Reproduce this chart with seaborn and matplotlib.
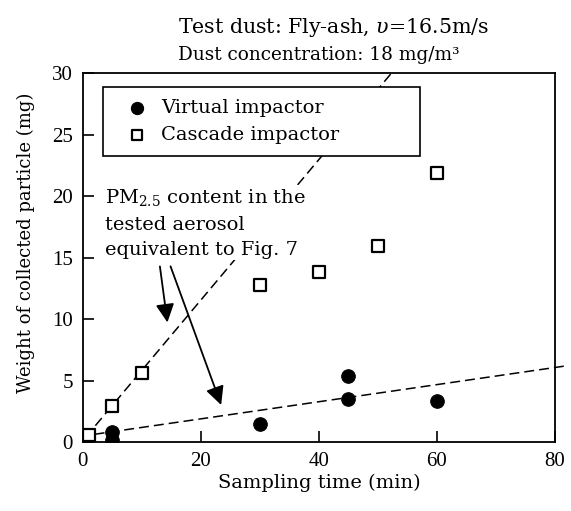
import numpy as np
import pandas as pd
import matplotlib
matplotlib.use("Agg")
import matplotlib.pyplot as plt
import seaborn as sns

# readings
virtual_time = [5, 5, 30, 45, 45, 60]
virtual_weight = [0.85, 0.2, 1.5, 5.4, 3.5, 3.3]
cascade_time = [1, 5, 10, 30, 40, 50, 60]
cascade_weight = [0.6, 2.9, 5.6, 12.8, 13.8, 15.9, 21.9]

# dashed reference lines (PM2.5 content equivalent to Fig. 7)
steep_x = [0.5, 53.0]
steep_y = [0.4, 30.4]
flat_x = [2.0, 82.0]
flat_y = [0.63, 6.2]

xticks = [0, 20, 40, 60, 80]
yticks = [0, 5, 10, 15, 20, 25, 30]

sns.set_style("ticks")
plt.rcParams["font.family"] = ["DejaVu Serif"]
plt.rcParams["mathtext.fontset"] = "dejavuserif"
for key in ["text.color", "axes.labelcolor", "xtick.color", "ytick.color"]:
    plt.rcParams[key] = "black"

fig = plt.figure(figsize=(5.71, 5.11), dpi=100)
ax = fig.add_axes([0.145, 0.135, 0.827, 0.722])

df_v = pd.DataFrame({"t": virtual_time, "w": virtual_weight})
df_c = pd.DataFrame({"t": cascade_time, "w": cascade_weight})

dash = (0, (6.5, 3.3))
sns.lineplot(x=steep_x, y=steep_y, ax=ax, color="black", lw=1.1,
             linestyle=dash, zorder=2)
sns.lineplot(x=flat_x, y=flat_y, ax=ax, color="black", lw=1.1,
             linestyle=dash, zorder=2, clip_on=False)

sns.scatterplot(data=df_c, x="t", y="w", ax=ax, marker="s", s=75,
                facecolor="white", edgecolor="black", linewidth=1.6,
                label="Cascade impactor", zorder=3)
sns.scatterplot(data=df_v, x="t", y="w", ax=ax, marker="o", s=95,
                color="black", edgecolor="black",
                label="Virtual impactor", zorder=4)

ax.set_xlim(0, 80)
ax.set_ylim(0, 30)
ax.set_xticks(xticks)
ax.set_yticks(yticks)
ax.tick_params(direction="in", length=8, width=1.2, pad=7,
               labelsize=15, top=False, right=False)
for lab in ax.get_xticklabels() + ax.get_yticklabels():
    lab.set_family("Liberation Serif")
for sp in ax.spines.values():
    sp.set_linewidth(1.3)
    sp.set_color("black")

ax.set_xlabel("Sampling time (min)", fontsize=14, labelpad=2)
ax.set_ylabel("Weight of collected particle (mg)", fontsize=13)
ax.yaxis.set_label_coords(-0.102, 0.54)

# legend: virtual first, cascade second, box stretched like the original
h, l = ax.get_legend_handles_labels()
leg = ax.legend(h[::-1], l[::-1], loc="upper left", mode="expand",
                bbox_to_anchor=(0.042, 0.77, 0.672, 0.192), fontsize=14,
                frameon=True, fancybox=False, edgecolor="black",
                framealpha=1, borderpad=0.6, borderaxespad=0,
                handlelength=2.3, handletextpad=0.1, labelspacing=0.5,
                markerscale=0.9)
leg.get_frame().set_linewidth(1.2)
leg.set_zorder(5)

ax.text(3.7, 17.8, "PM$_{2.5}$ content in the\ntested aerosol\nequivalent to Fig. 7",
        fontsize=14, va="center", ha="left", linespacing=1.55, zorder=6,
        bbox=dict(facecolor="white", edgecolor="none", pad=0.5))

arrow = dict(arrowstyle="-|>,head_length=0.7,head_width=0.35",
             color="black", lw=1.3, mutation_scale=16)
ax.annotate("", xy=(14.4, 9.5), xytext=(13.0, 14.5), arrowprops=arrow)
ax.annotate("", xy=(23.6, 2.8), xytext=(14.7, 14.5), arrowprops=arrow)

fig.text(0.312, 0.947, "Test dust: Fly-ash, $\\upsilon$=16.5m/s",
         fontsize=14.8, ha="left", va="center")
fig.text(0.312, 0.892, "Dust concentration: 18 mg/m³",
         fontsize=13.3, ha="left", va="center")

fig.savefig("out.png", dpi=100)
